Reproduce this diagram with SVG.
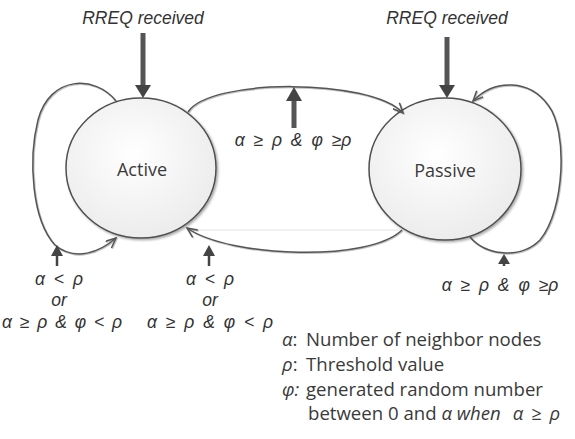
<svg xmlns="http://www.w3.org/2000/svg" width="575" height="439" viewBox="0 0 575 439">
<style>
  text { font-family: "Open Sans", "Liberation Sans", sans-serif; fill: #3a3a3a; }
  .lbl { font-size: 18px; text-anchor: middle; }
  .it { font-family: "Liberation Sans", "DejaVu Sans", sans-serif; font-style: italic; font-size: 17.5px; text-anchor: middle; fill: #333; }
  .ws { word-spacing: 4px; }
  .leg { font-size: 18.6px; }
  .node { fill: url(#nodeFill); stroke: #505050; stroke-width: 1.5; filter: url(#shadow); }
  .conn { fill: none; stroke: #555; stroke-width: 1.5; filter: url(#lshadow); }
  .thick { stroke: #555; stroke-width: 5; }
  .thin { stroke: #444; stroke-width: 2.5; }
  .head { fill: #444; }
</style>
<defs>
  <radialGradient id="nodeFill" cx="0.45" cy="0.4" r="0.6">
    <stop offset="0" stop-color="#ffffff"/>
    <stop offset="1" stop-color="#ececec"/>
  </radialGradient>
  <filter id="shadow" x="-10%" y="-10%" width="125%" height="125%">
    <feDropShadow dx="1.5" dy="1.5" stdDeviation="0.8" flood-color="#000" flood-opacity="0.35"/>
  </filter>
  <filter id="lshadow" x="-10%" y="-10%" width="125%" height="125%">
    <feDropShadow dx="0.8" dy="0.8" stdDeviation="0.5" flood-color="#000" flood-opacity="0.3"/>
  </filter>
  <marker id="open" viewBox="0 0 12 10" refX="11" refY="5" markerWidth="12" markerHeight="10" markerUnits="userSpaceOnUse" orient="auto">
    <path d="M1,0.5 L11,5 L1,9.5" fill="none" stroke="#555" stroke-width="1.5"/>
  </marker>
</defs>

<g id="active">
  <ellipse class="node" cx="141" cy="168" rx="75" ry="70"/>
  <text class="lbl" x="142" y="176">Active</text>
</g>
<g id="passive">
  <ellipse class="node" cx="445" cy="169" rx="76" ry="71"/>
  <text class="lbl" x="445" y="177">Passive</text>
</g>

<g id="connectors">
  <line x1="190" y1="230" x2="400" y2="230" stroke="#e2e2e2" stroke-width="1"/>
  <!-- Active -> Passive -->
  <path class="conn" d="M188,112 C210,78 370,78 403,113" marker-end="url(#open)"/>
  <!-- Passive -> Active -->
  <path class="conn" d="M402,230 C370,262 230,258 187,228" marker-end="url(#open)"/>
  <!-- Active self loop -->
  <path class="conn" d="M116,101 C95,75 50,75 38,120 C28,160 32,220 55,245 C75,262 100,252 116,238" marker-end="url(#open)"/>
  <!-- Passive self loop -->
  <path class="conn" d="M470,237 C485,255 520,260 540,240 C565,210 568,130 548,105 C530,80 495,78 473,101" marker-end="url(#open)"/>

  <!-- RREQ arrows -->
  <line class="thick" x1="143" y1="33" x2="143" y2="86"/>
  <path class="head" d="M135,85 L151,85 L143,98 Z"/>
  <line class="thick" x1="447" y1="37" x2="447" y2="86"/>
  <path class="head" d="M439,85 L455,85 L447,98 Z"/>

  <!-- condition arrows -->
  <line class="thick" x1="294" y1="128" x2="294" y2="100"/>
  <path class="head" d="M286,101 L302,101 L294,87 Z"/>
  <line class="thin" x1="57" y1="266" x2="57" y2="254"/>
  <path class="head" d="M51,256 L63,256 L57,245 Z"/>
  <line class="thin" x1="209" y1="266" x2="209" y2="254"/>
  <path class="head" d="M203,256 L215,256 L209,245 Z"/>
  <line class="thin" x1="504" y1="266" x2="504" y2="262"/>
  <path class="head" d="M498,264 L510,264 L504,254 Z"/>
</g>

<g id="labels">
  <text class="it" x="143" y="24">RREQ received</text>
  <text class="it" x="447" y="24">RREQ received</text>
  <text class="it ws" x="293" y="146">α ≥ ρ &amp; φ ≥ρ</text>
  <text class="it ws" x="59" y="285">α &lt; ρ</text>
  <text class="it ws" x="59" y="306">or</text>
  <text class="it" x="62" y="328" style="word-spacing:3px">α ≥ ρ &amp; φ &lt; ρ</text>
  <text class="it ws" x="210" y="285">α &lt; ρ</text>
  <text class="it ws" x="210" y="306">or</text>
  <text class="it ws" x="210" y="328">α ≥ ρ &amp; φ &lt; ρ</text>
  <text class="it ws" x="500" y="291">α ≥ ρ &amp; φ ≥ρ</text>
</g>

<g id="legend">
  <text class="leg" x="282" y="346"><tspan font-style="italic">α</tspan>:<tspan x="306">Number of neighbor nodes</tspan></text>
  <text class="leg" x="282" y="371"><tspan font-style="italic">ρ</tspan>:<tspan x="306">Threshold value</tspan></text>
  <text class="leg" x="282" y="396"><tspan font-style="italic">φ:</tspan><tspan x="306">generated random number</tspan></text>
  <text class="leg" x="308" y="420">between 0 and <tspan font-style="italic">α when</tspan><tspan font-style="italic" dx="12" style="word-spacing:3px">α ≥ ρ</tspan></text>
</g>
</svg>
